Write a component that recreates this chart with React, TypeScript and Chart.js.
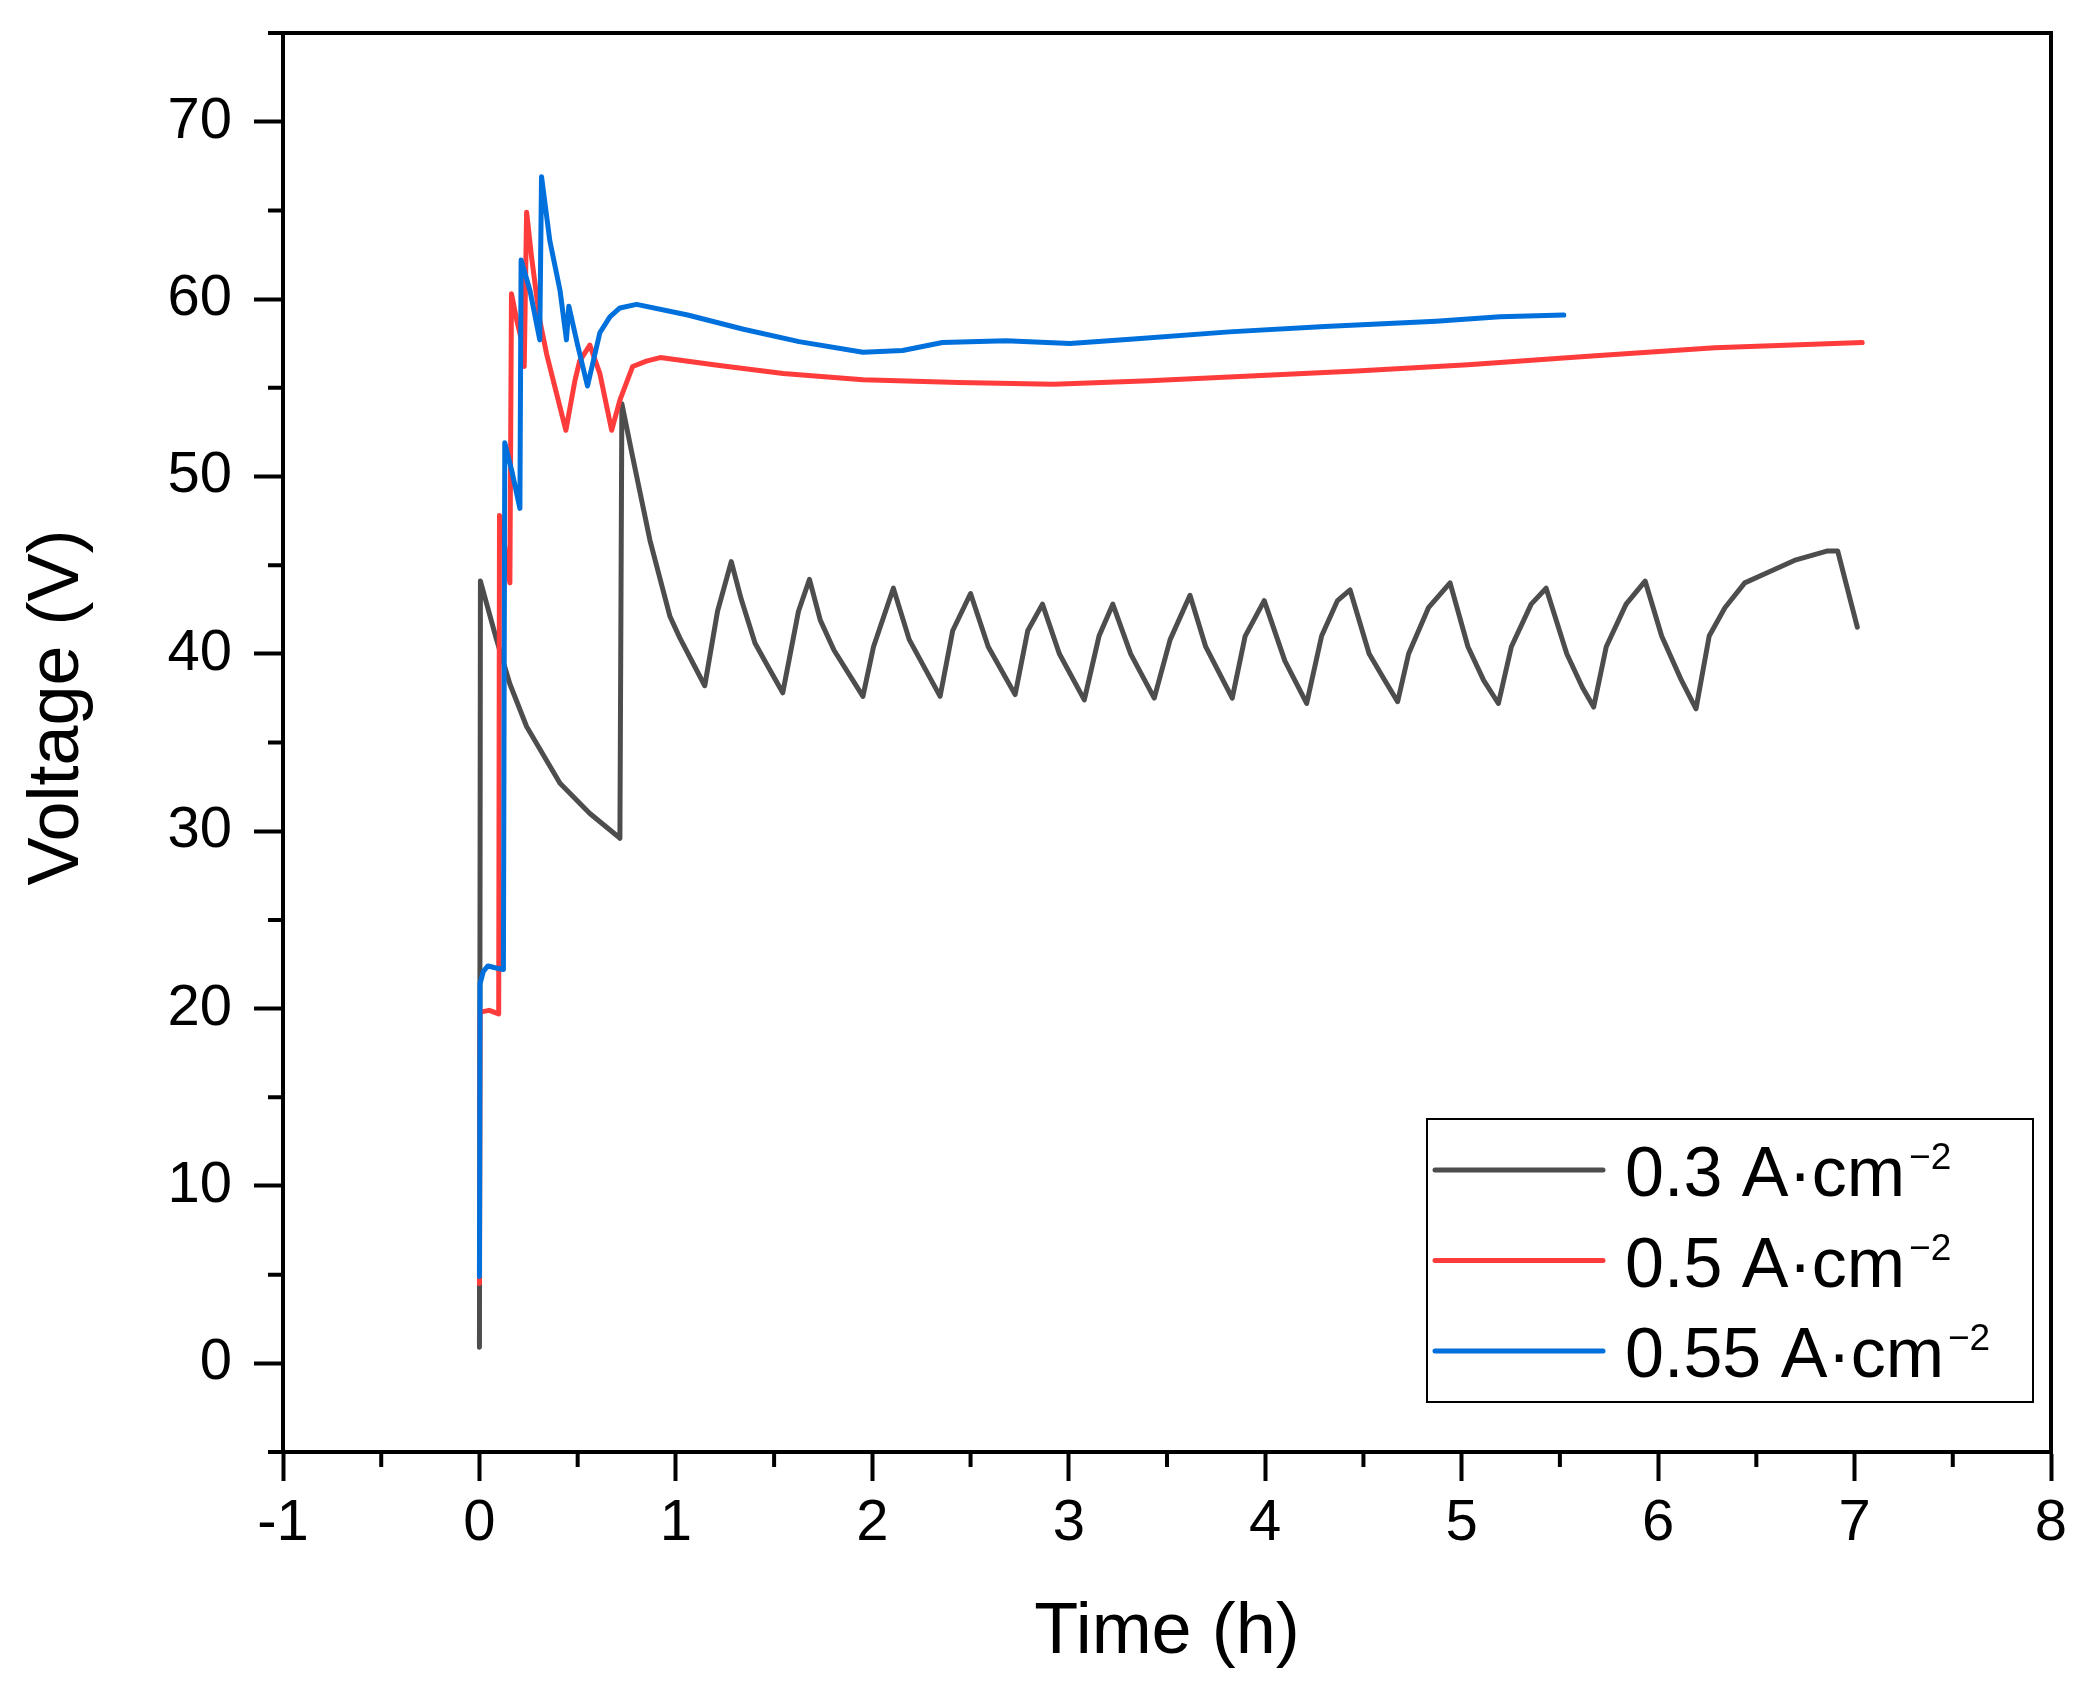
import { useEffect, useRef } from "react"
import { Chart, registerables } from "chart.js"

Chart.register(...registerables)

const FONT = "'Liberation Sans', Arial, sans-serif"

// current densities (legend) and line colours
const densities = ["0.3", "0.5", "0.55"]
const colors = ["#4d4d4d", "#ff3c3c", "#0070dc"]

// [time (h), voltage (V)]
const series03: [number, number][] = [
  [0, 0.9], [0.005, 44.1], [0.087, 40.8], [0.155, 38.3], [0.24, 35.9], [0.41, 32.7],
  [0.562, 31.0], [0.705, 29.7], [0.715, 29.6], [0.725, 54.1], [0.78, 51.1], [0.868, 46.4],
  [0.97, 42.1], [1.02, 40.9], [1.147, 38.2], [1.212, 42.4], [1.282, 45.2], [1.332, 43.1],
  [1.403, 40.6], [1.463, 39.4], [1.544, 37.8], [1.624, 42.4], [1.68, 44.2], [1.735, 41.9],
  [1.805, 40.2], [1.952, 37.6], [2.006, 40.4], [2.107, 43.7], [2.188, 40.8], [2.345, 37.6],
  [2.409, 41.3], [2.5, 43.4], [2.59, 40.4], [2.727, 37.7], [2.791, 41.3], [2.866, 42.8],
  [2.952, 40.0], [3.079, 37.4], [3.154, 41.0], [3.224, 42.8], [3.315, 40.0], [3.435, 37.5],
  [3.516, 40.8], [3.617, 43.3], [3.697, 40.4], [3.832, 37.5], [3.898, 41.0], [3.995, 43.0],
  [4.1, 39.6], [4.211, 37.2], [4.287, 41.0], [4.368, 43.0], [4.432, 43.6], [4.529, 40.0],
  [4.609, 38.5], [4.674, 37.3], [4.73, 40.0], [4.831, 42.6], [4.941, 44.0], [5.032, 40.4],
  [5.112, 38.5], [5.187, 37.2], [5.253, 40.4], [5.354, 42.8], [5.43, 43.7], [5.535, 40.0],
  [5.615, 38.1], [5.672, 37.0], [5.736, 40.4], [5.837, 42.8], [5.934, 44.1], [6.018, 41.0],
  [6.119, 38.5], [6.193, 36.9], [6.26, 41.0], [6.34, 42.6], [6.441, 44.0], [6.541, 44.5],
  [6.702, 45.3], [6.863, 45.8], [6.914, 45.8], [7.014, 41.5],
]

const series05: [number, number][] = [
  [0, 4.5], [0.003, 19.8], [0.05, 19.9], [0.098, 19.7], [0.102, 47.8], [0.125, 46.3],
  [0.155, 44.0], [0.163, 60.3], [0.19, 58.8], [0.214, 57.7], [0.228, 56.2], [0.24, 64.9],
  [0.265, 62.4], [0.307, 58.8], [0.342, 56.9], [0.392, 54.7], [0.44, 52.6], [0.486, 55.4],
  [0.51, 56.5], [0.562, 57.4], [0.613, 55.8], [0.673, 52.6], [0.715, 54.3], [0.78, 56.2],
  [0.85, 56.5], [0.92, 56.7], [1.222, 56.25], [1.546, 55.8], [1.952, 55.45], [2.438, 55.3],
  [2.924, 55.2], [3.411, 55.4], [3.897, 55.65], [4.465, 55.95], [5.032, 56.3], [5.681, 56.8],
  [6.289, 57.25], [7.039, 57.55],
]

const series055: [number, number][] = [
  [0, 4.9], [0.003, 21.4], [0.02, 22.1], [0.043, 22.4], [0.08, 22.3], [0.122, 22.2],
  [0.129, 51.9], [0.165, 50.3], [0.206, 48.2], [0.212, 62.2], [0.257, 60.5], [0.307, 57.7],
  [0.316, 66.9], [0.358, 63.3], [0.41, 60.5], [0.443, 57.7], [0.455, 59.6], [0.5, 57.4],
  [0.55, 55.1], [0.613, 58.1], [0.664, 59.0], [0.715, 59.5], [0.8, 59.7], [1.06, 59.1],
  [1.344, 58.3], [1.627, 57.6], [1.952, 57.0], [2.154, 57.1], [2.357, 57.55], [2.681, 57.65],
  [3.006, 57.5], [3.33, 57.75], [3.816, 58.15], [4.303, 58.45], [4.87, 58.75], [5.195, 59.0],
  [5.52, 59.1],
]

const allSeries = [series03, series05, series055]

// labelled ticks and minor tick positions
const yMajorTicks = [0, 10, 20, 30, 40, 50, 60, 70]
const xMinorTicks = [-0.5, 0.5, 1.5, 2.5, 3.5, 4.5, 5.5, 6.5, 7.5]
const yMinorTicks = [-5, 5, 15, 25, 35, 45, 55, 65, 75]

const framePlugin = {
  id: "frame",
  afterDraw(chart: any) {
    const { ctx, chartArea: a, scales } = chart
    ctx.save()
    ctx.strokeStyle = "#000"
    ctx.lineWidth = 4
    ctx.beginPath()
    // top and right edges
    ctx.moveTo(a.left - 2, a.top)
    ctx.lineTo(a.right, a.top)
    ctx.lineTo(a.right, a.bottom + 2)
    // minor ticks
    for (const v of yMinorTicks) {
      const py = scales.y.getPixelForValue(v)
      ctx.moveTo(a.left - 15, py)
      ctx.lineTo(a.left, py)
    }
    for (const v of xMinorTicks) {
      const px = scales.x.getPixelForValue(v)
      ctx.moveTo(px, a.bottom)
      ctx.lineTo(px, a.bottom + 15)
    }
    ctx.stroke()

    // y axis title
    ctx.translate(a.left - 225, (a.top + a.bottom) / 2 - 35)
    ctx.rotate(-Math.PI / 2)
    ctx.fillStyle = "#000"
    ctx.font = `72px ${FONT}`
    ctx.textAlign = "center"
    ctx.textBaseline = "middle"
    ctx.fillText("Voltage (V)", 0, 0)
    ctx.restore()
  },
}

const legendPlugin = {
  id: "insetLegend",
  afterDraw(chart: any) {
    const { ctx, chartArea: a } = chart
    const left = a.right - 624
    const top = a.bottom - 333
    ctx.save()
    ctx.strokeStyle = "#000"
    ctx.lineWidth = 2
    ctx.strokeRect(left, top, 606, 283)
    chart.data.datasets.forEach((ds: any, i: number) => {
      const rowY = top + 51 + i * 90.5
      ctx.strokeStyle = ds.borderColor
      ctx.lineWidth = 5
      ctx.lineCap = "round"
      ctx.beginPath()
      ctx.moveTo(left + 8, rowY)
      ctx.lineTo(left + 176, rowY)
      ctx.stroke()

      const base = ds.label.replace("⁻²", "")
      ctx.fillStyle = "#000"
      ctx.textAlign = "left"
      ctx.textBaseline = "alphabetic"
      ctx.font = `70px ${FONT}`
      ctx.fillText(base, left + 198, rowY + 26)
      const w = ctx.measureText(base).width
      ctx.font = `37px ${FONT}`
      ctx.fillText("−2", left + 198 + w + 4, rowY - 1)
    })
    ctx.restore()
  },
}

export default function App() {
  const canvasRef = useRef<HTMLCanvasElement>(null)
  const chartRef = useRef<Chart | null>(null)

  useEffect(() => {
    if (!canvasRef.current) return
    if (chartRef.current) chartRef.current.destroy()

    const tickFont = { family: FONT, size: 58 }

    chartRef.current = new Chart(canvasRef.current, {
      type: "line",
      data: {
        datasets: allSeries.map((s, i) => ({
          label: `${densities[i]} A·cm⁻²`,
          data: s.map(([x, y]) => ({ x, y })),
          borderColor: colors[i],
          backgroundColor: colors[i],
          borderWidth: 5,
          pointRadius: 0,
          tension: 0,
          borderJoinStyle: "round" as const,
          borderCapStyle: "round" as const,
          order: 2 - i,
        })),
      },
      options: {
        animation: false,
        responsive: false,
        devicePixelRatio: 1,
        layout: { padding: { top: 33, right: 33, left: 0, bottom: 0 } },
        plugins: {
          legend: { display: false },
          tooltip: { enabled: false },
        },
        scales: {
          x: {
            type: "linear",
            min: -1,
            max: 8,
            ticks: { stepSize: 1, color: "#000", font: tickFont, padding: 8, maxRotation: 0 },
            grid: {
              drawOnChartArea: false,
              drawTicks: true,
              tickLength: 29,
              tickWidth: 4,
              tickColor: "#000",
            },
            border: { display: true, color: "#000", width: 4 },
            title: {
              display: true,
              text: "Time (h)",
              color: "#000",
              font: { family: FONT, size: 72 },
              padding: { top: 0, bottom: 19 },
            },
            afterFit: (scale: any) => {
              scale.height = 243
              scale.paddingLeft = 0
              scale.paddingRight = 0
            },
          },
          y: {
            type: "linear",
            min: -5,
            max: 75,
            ticks: { color: "#000", font: tickFont, padding: 22 },
            afterBuildTicks: (scale: any) => {
              scale.ticks = yMajorTicks.map((value) => ({ value }))
            },
            grid: {
              drawOnChartArea: false,
              drawTicks: true,
              tickLength: 29,
              tickWidth: 4,
              tickColor: "#000",
            },
            border: { display: true, color: "#000", width: 4 },
            afterFit: (scale: any) => {
              scale.width = 283
              scale.paddingTop = 0
              scale.paddingBottom = 0
            },
          },
        },
      },
      plugins: [framePlugin, legendPlugin],
    })

    return () => {
      if (chartRef.current) {
        chartRef.current.destroy()
        chartRef.current = null
      }
    }
  }, [])

  return (
    <div style={{ position: "fixed", left: 0, top: 0, width: 2084, height: 1695, background: "#fff" }}>
      <canvas ref={canvasRef} width={2084} height={1695} style={{ width: 2084, height: 1695 }}></canvas>
    </div>
  )
}
